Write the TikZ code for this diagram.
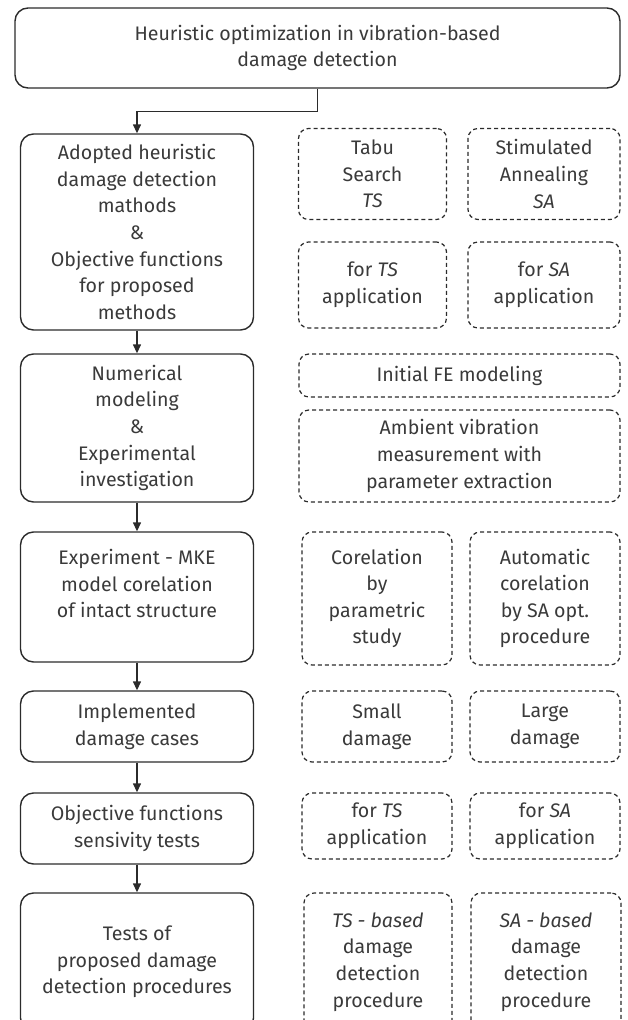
\documentclass[tikz,border=0pt]{standalone}
\usepackage{fontspec}
\setmainfont{Fira Sans}
\usepackage{tikz}
\usetikzlibrary{arrows.meta}
\definecolor{ink}{HTML}{2B2B2B}
\definecolor{txt}{HTML}{3A3A3A}

\begin{document}
\begin{tikzpicture}[x=1pt,y=-1pt,
  every node/.style={font=\fontsize{19.6}{26.6}\selectfont, text=txt},
  mainbox/.style={draw=ink, line width=1.4pt, rounded corners=13pt, align=center,
                  minimum width=233pt, inner sep=0pt},
  sidebox/.style={draw=ink, line width=1.2pt, dash pattern=on 4pt off 3pt,
                  rounded corners=10pt, align=center, inner sep=0pt},
  flow/.style={draw=ink, line width=1.4pt, -{Triangle[length=9pt,width=8pt]}},
]
  \useasboundingbox (0,0) rectangle (627,1020);

  % Title
  \node[mainbox, minimum width=605pt, minimum height=80pt] (top) at (317.5,48)
    {Heuristic optimization in vibration-based\\damage detection};

  % Step 1: methods
  \node[mainbox, minimum height=196pt] (adopt) at (137,232)
    {Adopted heuristic\\damage detection\\mathods\\\&\\Objective functions\\for proposed\\methods};
  \node[sidebox, minimum width=148pt, minimum height=91pt] (tabu) at (372.5,174)
    {Tabu\\Search\\\textit{TS}};
  \node[sidebox, minimum width=152pt, minimum height=91pt] (anneal) at (544,174)
    {Stimulated\\Annealing\\\textit{SA}};
  \node[sidebox, minimum width=148pt, minimum height=86pt] (objts) at (372.5,285)
    {for \textit{TS}\\application};
  \node[sidebox, minimum width=152pt, minimum height=86pt] (objsa) at (544,285)
    {for \textit{SA}\\application};

  % Step 2: modeling
  \node[mainbox, minimum height=148pt] (model) at (137,428)
    {Numerical\\modeling\\\&\\Experimental\\investigation};
  \node[sidebox, minimum width=321pt, minimum height=43pt] (fe) at (459.5,375.5)
    {Initial FE modeling};
  \node[sidebox, minimum width=321pt, minimum height=92pt] (ambient) at (459.5,456)
    {Ambient vibration\\measurement with\\parameter extraction};

  % Step 3: correlation
  \node[mainbox, minimum height=130pt] (corel) at (137,597)
    {Experiment - MKE\\model corelation\\of intact structure\\\mbox{}};
  \node[sidebox, minimum width=150pt, minimum height=133pt] (param) at (377,598.5)
    {Corelation\\by\\parametric\\study};
  \node[sidebox, minimum width=150pt, minimum height=133pt] (auto) at (545,598.5)
    {Automatic\\corelation\\by SA opt.\\procedure};

  % Step 4: damage cases
  \node[mainbox, minimum height=71pt] (cases) at (137,726.5)
    {Implemented\\damage cases};
  \node[sidebox, minimum width=150pt, minimum height=71pt] (small) at (377,726.5)
    {Small\\damage};
  \node[sidebox, minimum width=150pt, minimum height=71pt] (large) at (545,726.5)
    {Large\\damage};

  % Step 5: sensitivity
  \node[mainbox, minimum height=71pt] (sens) at (137,828.5)
    {Objective functions\\sensivity tests};
  \node[sidebox, minimum width=150pt, minimum height=66pt] (sensts) at (377,826)
    {for \textit{TS}\\application};
  \node[sidebox, minimum width=150pt, minimum height=66pt] (senssa) at (545,826)
    {for \textit{SA}\\application};

  % Step 6: tests
  \node[mainbox, minimum height=138pt] (tests) at (137,962)
    {Tests of\\proposed damage\\detection procedures};
  \node[sidebox, minimum width=148pt, minimum height=138pt] (procts) at (378,962)
    {\textit{TS - based}\\damage\\detection\\procedure};
  \node[sidebox, minimum width=150pt, minimum height=138pt] (procsa) at (546,962)
    {\textit{SA - based}\\damage\\detection\\procedure};

  % Flow
  \draw[flow] (top.south) -- ++(0,23) -| (adopt.north);
  \draw[flow] (adopt) -- (model);
  \draw[flow] (model) -- (corel);
  \draw[flow] (corel) -- (cases);
  \draw[flow] (cases) -- (sens);
  \draw[flow] (sens) -- (tests);
\end{tikzpicture}
\end{document}
